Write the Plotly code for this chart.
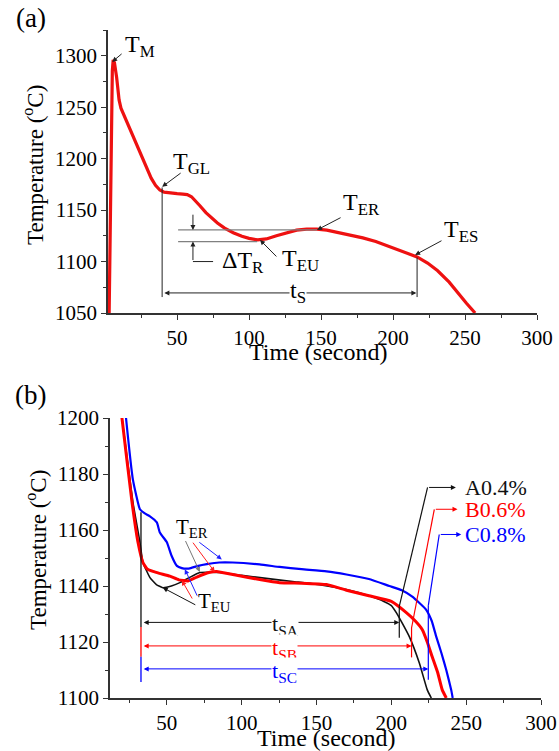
import plotly.graph_objects as go

# ---------------- data: panel (a) ----------------
time_a = [2.8, 3.5, 4.3, 5.0, 5.6, 6.5, 8.0, 9.7, 11.0, 13.0, 17.4, 22.0, 26.0, 29.0, 32.0, 35.0,
          38.0, 41.0, 45.0, 50.0, 54.0, 57.0, 60.0, 63.0, 66.0, 70.0, 74.0, 78.0, 83.0, 89.0,
          95.0, 100.0, 106.0, 112.0, 119.0, 126.0, 133.0, 140.0, 147.0, 154.0, 161.0, 170.0,
          179.0, 188.0, 198.0, 207.0, 216.7, 224.0, 231.0, 239.0, 245.0, 251.0, 257.0]
temp_a = [1050, 1150, 1240, 1285, 1296, 1293, 1279, 1257, 1249, 1242.5, 1228, 1212, 1199, 1190, 1181, 1174,
          1169.5, 1167.5, 1166.5, 1166, 1165.5, 1165, 1163, 1159, 1154, 1147.5, 1142, 1137.5, 1132.5, 1128,
          1124.5, 1122.5, 1121, 1122, 1125, 1128, 1130.5, 1131.5, 1131.5, 1130.5, 1128.5, 1126,
          1123, 1119.5, 1114.5, 1110, 1104.5, 1098.5, 1091, 1080, 1069.5, 1059.5, 1050]

# ---------------- data: panel (b) ----------------
time_A = [19.5, 20.0, 27.3, 32.0, 34.0, 38.7, 43.0, 47.3, 53.0, 58.7, 65.0, 72.0, 85.3, 100.0, 115.0,
          134.0, 152.0, 170.0, 185.0, 195.0, 200.0, 203.3, 207.0, 212.0, 218.7, 224.0, 226.7]
temp_A = [1203, 1200, 1170, 1155.6, 1148.4, 1143, 1140.5, 1139.4, 1140, 1141.2, 1143, 1144.8, 1144.8, 1143.8, 1142.8,
          1141.6, 1140.5, 1138.7, 1136.5, 1134.5, 1133, 1130.5, 1127, 1121.9, 1112.5, 1102.9, 1100]

time_B = [19.5, 20.0, 26.7, 30.7, 34.0, 37.0, 40.7, 45.0, 52.0, 58.0, 64.0, 70.0, 78.0, 83.3, 95.0,
          112.0, 125.3, 140.0, 156.7, 170.0, 185.0, 200.0, 210.0, 216.0, 220.7, 224.0, 227.3, 231.0,
          234.0, 236.7]
temp_B = [1203, 1200, 1170, 1155.6, 1148.4, 1146, 1145.2, 1144.5, 1143.5, 1142.2, 1141.8, 1143.2, 1144.8, 1145.2, 1144,
          1142.3, 1141.2, 1141, 1140.5, 1138.5, 1136.5, 1134.5, 1130.5, 1127.5, 1124.4, 1120, 1114.7, 1109,
          1102.9, 1100]

time_C = [22.2, 22.7, 27.3, 32.0, 35.0, 38.7, 43.3, 45.3, 50.0, 53.0, 56.7, 60.0, 63.3, 66.0, 71.0,
          76.7, 85.0, 94.0, 112.0, 125.3, 140.0, 156.7, 170.0, 185.0, 198.7, 207.0, 214.0, 223.3,
          227.0, 230.0, 233.5, 236.7, 240.0, 241.0]
temp_C = [1203, 1200, 1178, 1167.4, 1166, 1164.9, 1162.7, 1159.1, 1155.6, 1151, 1147.2, 1146.4, 1146.2, 1146.4, 1147.2,
          1147.8, 1148.4, 1148.4, 1147.7, 1146.8, 1146, 1145.2, 1144.1, 1142.5, 1140, 1138.5, 1136.2, 1131.5,
          1127.5, 1121.9, 1116, 1110, 1102.9, 1100]

series_b_names = ["A0.4%", "B0.6%", "C0.8%"]
series_b_colors = ["#111111", "#ff0000", "#0000ff"]
series_b_widths = [1.6, 3.0, 2.2]

# ---------------- axis ranges ----------------
xrange_a = [2, 300]
yrange_a = [1050, 1325]
xrange_b = [12, 300]
yrange_b = [1100, 1200]

# ---------------- annotation anchor points (data units) ----------------
ts_a_start, ts_a_end, ts_a_y = 39.6, 216.7, 1069.5
ts_a_bottom = 1065.5
ter_level, teu_level = 1130.7, 1119.4
dt_x = 61.0

tsb_left = 32.7
tsb_rows_y = [1127.0, 1118.6, 1110.4]
tsb_rows_end = [205.3, 213.5, 224.7]
tsb_labels = ["t<sub>SA</sub>", "t<sub>SB</sub>", "t<sub>SC</sub>"]
tsb_label_y = [1126.0, 1117.6, 1109.2]
left_seg_y = [1166.3, 1125.4, 1114.7, 1105.7]
right_vert_bot = [1121.5, 1114.5, 1106.5]
right_vert_top = [1132.7, 1125.0, 1133.0]
diag_top_x = [224.2, 228.7, 232.0]
diag_top_y = [1175.2, 1167.4, 1158.4]
label_arrow_x = [243.1, 244.2, 246.7]
label_text_x = 248.0

SERIF = "Liberation Serif"
RED_A = "#ee1111"

W, H = 559, 751


def fx(px):
    return px / W


def fy(py):
    return 1 - py / H


fig = go.Figure()

fig.add_trace(go.Scatter(x=time_a, y=temp_a, mode="lines",
                         line=dict(color=RED_A, width=3.2),
                         showlegend=False, xaxis="x", yaxis="y"))

for tx, ty, nm, col, w in zip([time_A, time_B, time_C], [temp_A, temp_B, temp_C],
                              series_b_names, series_b_colors, series_b_widths):
    fig.add_trace(go.Scatter(x=tx, y=ty, mode="lines", name=nm,
                             line=dict(color=col, width=w, shape="spline", smoothing=0.4),
                             showlegend=False, xaxis="x2", yaxis="y2"))

shapes = []
ann = []


def seg(x0, y0, x1, y1, ax="", color="#222222", width=1.0):
    shapes.append(dict(type="line", xref="x" + ax, yref="y" + ax, x0=x0, y0=y0, x1=x1, y1=y1,
                       line=dict(color=color, width=width), layer="above"))


def arrow(x0, y0, x1, y1, ax="", color="#222222", width=1.0, both=False, head=2, size=1.0):
    ann.append(dict(x=x1, y=y1, ax=x0, ay=y0, xref="x" + ax, yref="y" + ax,
                    axref="x" + ax, ayref="y" + ax, text="", showarrow=True,
                    arrowhead=head, startarrowhead=head, arrowsize=size, startarrowsize=size,
                    arrowwidth=width, arrowcolor=color,
                    arrowside="end+start" if both else "end", standoff=0, startstandoff=0))


def label(x, y, text, ax="", size=22, color="black", bg=None, xanchor="center"):
    d = dict(x=x, y=y, xref="x" + ax, yref="y" + ax, text=text, showarrow=False,
             font=dict(family=SERIF, size=size, color=color), xanchor=xanchor, yanchor="middle")
    if bg:
        d["bgcolor"] = bg
        d["borderpad"] = 0
    ann.append(d)


# ---------- panel (a) annotations ----------
arrow(12.5, 1303, 4.9, 1294)
label(24, 1309, "T<sub>M</sub>", size=24)
arrow(53.5, 1187, 39.6, 1172.6)
label(60, 1196, "T<sub>GL</sub>", size=24)
seg(ts_a_start, 1172, ts_a_start, ts_a_bottom)
seg(ts_a_end, 1104, ts_a_end, ts_a_bottom)
arrow(ts_a_start + 0.5, ts_a_y, ts_a_end - 0.5, ts_a_y, both=True)
label(134, 1070.5, "t<sub>S</sub>", size=24, bg="white")
seg(50.7, ter_level, 147.2, ter_level, color="#808080", width=1.3)
seg(50.7, teu_level, 105.6, teu_level, color="#808080", width=1.3)
arrow(dt_x, 1147, dt_x, ter_level)
arrow(dt_x, 1100, dt_x, teu_level)
seg(dt_x, 1100, 75, 1100)
label(96, 1099.5, "ΔT<sub>R</sub>", size=24)
arrow(120, 1103.5, 107.6, 1121)
label(136, 1101.5, "T<sub>EU</sub>", size=24)
arrow(164.6, 1143.4, 147.2, 1130.7)
label(178, 1156, "T<sub>ER</sub>", size=24)
arrow(234.7, 1121, 215.3, 1106.4)
label(247.5, 1130, "T<sub>ES</sub>", size=24)

# ---------- panel (b) annotations ----------
seg(tsb_left, left_seg_y[0], tsb_left, left_seg_y[1], ax="2", color=series_b_colors[0], width=1.3)
seg(tsb_left, left_seg_y[1], tsb_left, left_seg_y[2], ax="2", color=series_b_colors[1], width=1.3)
seg(tsb_left, left_seg_y[2], tsb_left, left_seg_y[3], ax="2", color=series_b_colors[2], width=1.3)
for i in range(3):
    col = series_b_colors[i]
    arrow(tsb_left + 0.8, tsb_rows_y[i], tsb_rows_end[i], tsb_rows_y[i], ax="2", color=col, both=True)
    label(128.7, tsb_label_y[i], tsb_labels[i], ax="2", size=22, color=col, bg="white")
    xr = tsb_rows_end[i]
    seg(xr, right_vert_bot[i], xr, right_vert_top[i], ax="2", color=col, width=1.2)
    seg(xr, right_vert_top[i], diag_top_x[i], diag_top_y[i], ax="2", color=col, width=1.2)
    arrow(diag_top_x[i], diag_top_y[i], label_arrow_x[i], diag_top_y[i], ax="2", color=col)
    label(label_text_x, diag_top_y[i], series_b_names[i], ax="2", size=22, color=col, xanchor="left")

arrow(62, 1156.6, 72, 1145, ax="2", color="#777777")
arrow(66.7, 1156, 82, 1145, ax="2", color="#ff2020")
arrow(70.7, 1156, 86.7, 1149.5, ax="2", color="#2020ff")
label(66.7, 1160.8, "T<sub>ER</sub>", ax="2", size=21)
arrow(70, 1133, 47.3, 1139.4, ax="2", color="#111111")
arrow(67.5, 1135, 60, 1142, ax="2", color="#ff2020")
arrow(70.7, 1136, 62, 1146, ax="2", color="#2020ff")
label(81.5, 1134.2, "T<sub>EU</sub>", ax="2", size=21)


def paper_label(px, py, text, size, angle=0):
    ann.append(dict(x=fx(px), y=fy(py), xref="paper", yref="paper", text=text,
                    showarrow=False, textangle=angle, xanchor="center", yanchor="middle",
                    font=dict(family=SERIF, size=size, color="black")))


paper_label(31, 18, "(a)", 27)
paper_label(30, 395, "(b)", 27)
paper_label(318, 352, "Time (second)", 24)
paper_label(326, 738, "Time (second)", 24)
paper_label(33, 165, "Temperature (<sup>o</sup>C)", 23, angle=-90)
paper_label(36, 550, "Temperature (<sup>o</sup>C)", 23, angle=-90)

axis_common = dict(showline=True, linecolor="#333333", linewidth=1.5, showgrid=False, zeroline=False,
                   ticks="outside", ticklen=5, tickwidth=1.3, tickcolor="#333333",
                   ticklabeloverflow="allow", automargin=False,
                   tickfont=dict(family=SERIF, size=21, color="black"))

fig.update_layout(
    width=W, height=H, margin=dict(l=0, r=0, t=0, b=0, autoexpand=False),
    font=dict(family=SERIF),
    paper_bgcolor="white", plot_bgcolor="white", showlegend=False,
    xaxis=dict(axis_common, domain=[fx(108), fx(537)], range=xrange_a, dtick=50, tick0=0,
               anchor="y", minor=dict(ticks="outside", ticklen=3, dtick=25, tick0=0, tickcolor="#333333")),
    yaxis=dict(axis_common, domain=[fy(313), fy(30)], range=yrange_a, dtick=50, tick0=1050,
               anchor="x", minor=dict(ticks="outside", ticklen=3, dtick=25, tick0=1050, tickcolor="#333333")),
    xaxis2=dict(axis_common, domain=[fx(110), fx(541)], range=xrange_b, dtick=50, tick0=0,
                anchor="y2", minor=dict(ticks="outside", ticklen=3, dtick=25, tick0=0, tickcolor="#333333")),
    yaxis2=dict(axis_common, domain=[fy(698), fy(418)], range=yrange_b, dtick=20, tick0=1100,
                anchor="x2", minor=dict(ticks="outside", ticklen=3, dtick=10, tick0=1100, tickcolor="#333333")),
    shapes=shapes, annotations=ann,
)

fig.write_html("out.html", config={"displayModeBar": False},
               post_script="document.body.style.margin='0';document.body.style.overflow='hidden';")
